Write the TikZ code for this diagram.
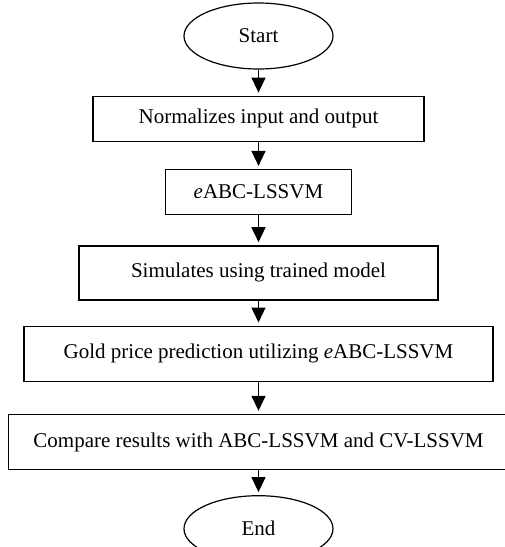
\documentclass[tikz,border=0pt]{standalone}
\usepackage{fontspec}
\setmainfont{Liberation Serif}
\usetikzlibrary{positioning,shapes,arrows.meta}
\tikzstyle{termbox}=[ellipse, draw=black, line width=1.2pt, minimum width=149pt,
                    minimum height=66pt, inner sep=0pt]
\tikzstyle{stepbox}=[rectangle, draw=black, line width=1.3pt, minimum height=45pt,
                    inner sep=0pt, text centered]
\tikzstyle{fline}=[-{Triangle[width=14pt,length=15pt]}, line width=1.4pt, shorten >=3pt]

\begin{document}
\begin{tikzpicture}[node distance=0mm, x=1pt, y=1pt, font=\fontsize{21}{25}\selectfont]
\useasboundingbox (0,0) rectangle (505,-547);

\node (START) [termbox] at (258.5,-36) {Start};

\node (NORM) [stepbox, minimum width=331pt,
below=26pt of START] {Normalizes input and output};

\node (EABC) [stepbox, minimum width=186pt,
below=27pt of NORM] {\textit{e}ABC-LSSVM};

\node (SIMU) [stepbox, minimum width=359pt, minimum height=54pt,
below=30pt of EABC] {Simulates using trained model};

\node (GOLD) [stepbox, minimum width=469pt, minimum height=55pt,
below=25pt of SIMU] {Gold price prediction utilizing \textit{e}ABC-LSSVM};

\node (COMP) [stepbox, minimum width=500pt, minimum height=55pt,
below=32pt of GOLD] {Compare results with ABC-LSSVM and CV-LSSVM};

\node (END) [termbox, below=25pt of COMP] {End};

 \draw[fline]   (START.south) -- (NORM.north) ;
 \draw[fline]   (NORM.south) -- (EABC.north) ;
 \draw[fline]   (EABC.south) -- (SIMU.north) ;
 \draw[fline]   (SIMU.south) -- (GOLD.north) ;
 \draw[fline]   (GOLD.south) -- (COMP.north) ;
 \draw[fline]   (COMP.south) -- (END.north) ;

\end{tikzpicture}
\end{document}
